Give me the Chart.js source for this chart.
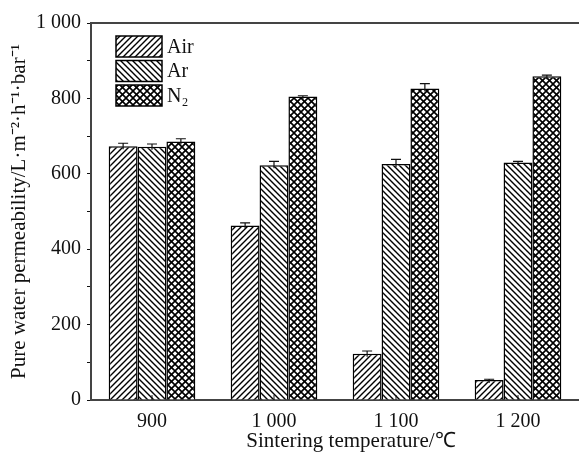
<!DOCTYPE html>
<html>
<head>
<meta charset="utf-8">
<script src="https://cdn.jsdelivr.net/npm/chart.js@4.4.0/dist/chart.umd.min.js"></script>
<style>
  html, body { margin: 0; padding: 0; background: #fff; }
  #wrap { width: 579px; height: 452px; position: relative; }
</style>
</head>
<body>
<div id="wrap"><canvas id="chart"></canvas></div>
<script>
// data
const categories = ['900', '1 000', '1 100', '1 200'];
const airValues = [673, 463, 123, 53];
const airErrors = [8, 7, 7, 2];
const arValues = [672, 623, 626, 630];
const arErrors = [7, 10, 12, 3];
const n2Values = [686, 805, 826, 859];
const n2Errors = [7, 2, 13, 3];
const yTicks = [0, 200, 400, 600, 800, 1000];

const FONT = '"Liberation Serif", "Times New Roman", serif';
const INK = '#111';

// hatch patterns
function makePattern(kind) {
    const p = kind === 'cross' ? 7 : 6;
    const c = document.createElement('canvas');
    c.width = p; c.height = p;
    const g = c.getContext('2d');
    g.fillStyle = '#fff';
    g.fillRect(0, 0, p, p);
    g.strokeStyle = '#000';
    g.lineWidth = kind === 'cross' ? 1.6 : 1.4;
    const fwd = () => {
        g.beginPath();
        g.moveTo(-1, p + 1); g.lineTo(p + 1, -1);
        g.moveTo(-1, 1); g.lineTo(1, -1);
        g.moveTo(p - 1, p + 1); g.lineTo(p + 1, p - 1);
        g.stroke();
    };
    const back = () => {
        g.beginPath();
        g.moveTo(-1, -1); g.lineTo(p + 1, p + 1);
        g.moveTo(p - 1, -1); g.lineTo(p + 1, 1);
        g.moveTo(-1, p - 1); g.lineTo(1, p + 1);
        g.stroke();
    };
    if (kind === 'fwd') fwd();
    if (kind === 'back') back();
    if (kind === 'cross') { fwd(); back(); }
    return document.getElementById('chart').getContext('2d').createPattern(c, 'repeat');
}

const errorBars = {
    id: 'errorBars',
    afterDatasetsDraw(chart) {
        const ctx = chart.ctx;
        const y = chart.scales.y;
        ctx.save();
        ctx.strokeStyle = INK;
        ctx.lineWidth = 1.2;
        chart.data.datasets.forEach((ds, i) => {
            const meta = chart.getDatasetMeta(i);
            meta.data.forEach((bar, j) => {
                const v = ds.data[j];
                const e = ds.errors[j];
                const top = y.getPixelForValue(v + e);
                const base = y.getPixelForValue(v);
                ctx.beginPath();
                ctx.moveTo(bar.x, base + 3);
                ctx.lineTo(bar.x, top);
                ctx.moveTo(bar.x - 5, top);
                ctx.lineTo(bar.x + 5, top);
                ctx.stroke();
            });
        });
        ctx.restore();
    }
};

const frame = {
    id: 'frame',
    afterDatasetsDraw(chart) {
        const ctx = chart.ctx;
        const a = chart.chartArea;
        const x = chart.scales.x;
        ctx.save();
        ctx.strokeStyle = '#444';
        ctx.lineWidth = 2;
        ctx.beginPath();
        ctx.moveTo(a.left, a.top);
        ctx.lineTo(a.right, a.top);
        ctx.stroke();
        // inward ticks at category centres
        ctx.strokeStyle = INK;
        ctx.lineWidth = 1;
        categories.forEach((c, i) => {
            const px = x.getPixelForValue(i);
            ctx.beginPath();
            ctx.moveTo(px, a.bottom);
            ctx.lineTo(px, a.bottom - 5);
            ctx.stroke();
        });
        // legend
        const lx = 116, lw = 46, lh = 21;
        chart.data.datasets.forEach((ds, i) => {
            const ly = 36 + i * 24.5;
            ctx.fillStyle = ds.backgroundColor;
            ctx.fillRect(lx, ly, lw, lh);
            ctx.strokeStyle = '#000';
            ctx.lineWidth = 1.5;
            ctx.strokeRect(lx, ly, lw, lh);
            ctx.fillStyle = INK;
            ctx.font = '20px ' + FONT;
            ctx.textBaseline = 'middle';
            ctx.fillText(ds.label, lx + lw + 5, ly + lh / 2 + 1);
        });
        // x axis title
        ctx.font = '21px ' + FONT;
        ctx.textAlign = 'center';
        ctx.textBaseline = 'alphabetic';
        ctx.fillText('Sintering temperature/\u2103', 351, 447);
        ctx.restore();
    }
};

const series = [
    { label: 'Air', data: airValues, errors: airErrors, kind: 'fwd' },
    { label: 'Ar', data: arValues, errors: arErrors, kind: 'back' },
    { label: 'N\u2082', data: n2Values, errors: n2Errors, kind: 'cross' }
];

new Chart(document.getElementById('chart'), {
    type: 'bar',
    data: {
        labels: categories,
        datasets: series.map(s => ({
            label: s.label,
            data: s.data,
            errors: s.errors,
            backgroundColor: makePattern(s.kind),
            borderColor: '#000',
            borderWidth: 1.5,
            barPercentage: 1,
            categoryPercentage: 0.71
        }))
    },
    options: {
        responsive: true,
        maintainAspectRatio: false,
        animation: false,
        devicePixelRatio: 1,
        layout: { padding: { top: 23, right: 0, left: 0, bottom: 0 } },
        plugins: { legend: { display: false }, tooltip: { enabled: false } },
        scales: {
            x: {
                grid: { display: false, drawTicks: false },
                border: { display: true, color: '#444', width: 2 },
                ticks: { color: INK, font: { family: FONT, size: 20 }, padding: 10 },
                afterFit(s) { s.height = 52; }
            },
            y: {
                min: 0,
                max: 1000,
                afterBuildTicks(s) {
                    const t = [];
                    for (let v = 0; v <= 1000; v += 100) t.push({ value: v });
                    s.ticks = t;
                },
                grid: { drawOnChartArea: false, drawTicks: true, tickLength: 4, color: INK },
                border: { display: true, color: '#444', width: 2 },
                ticks: {
                    color: INK,
                    font: { family: FONT, size: 20 },
                    padding: 6,
                    callback: v => yTicks.includes(v) ? (v >= 1000 ? '1 000' : String(v)) : ''
                },
                title: {
                    display: true,
                    text: 'Pure water permeability/L\u00b7m\u207b\u00b2\u00b7h\u207b\u00b9\u00b7bar\u207b\u00b9',
                    color: INK,
                    font: { family: FONT, size: 21 },
                    padding: { top: 7, bottom: 0 }
                },
                afterFit(s) { s.width = 91; }
            }
        }
    },
    plugins: [errorBars, frame]
});
</script>
</body>
</html>
